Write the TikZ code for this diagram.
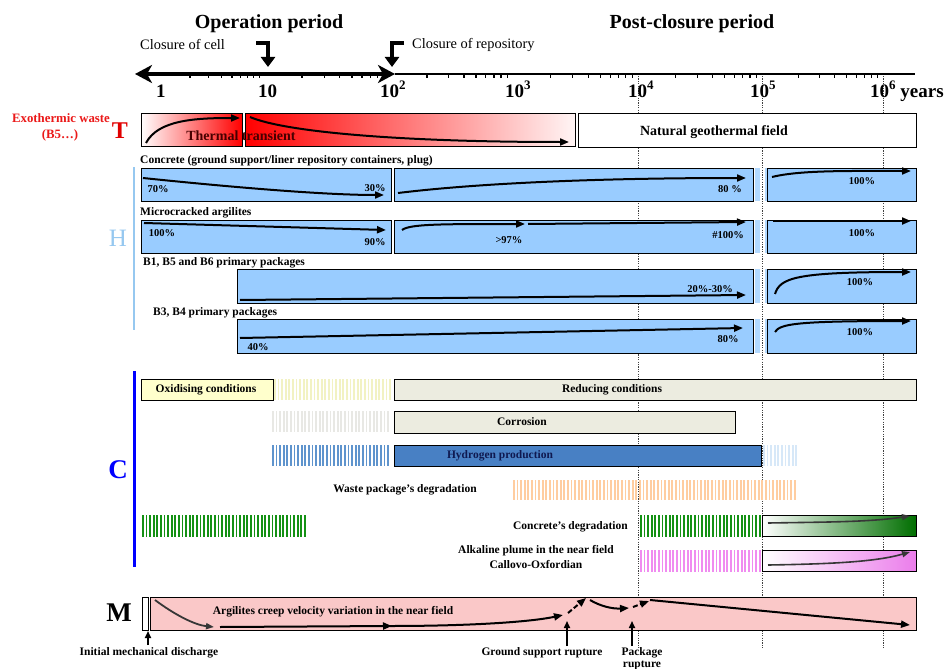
\documentclass[tikz,border=0pt]{standalone}
\usepackage{fontspec}
\setmainfont{Liberation Serif}
\usetikzlibrary{arrows.meta}
\definecolor{hblue}{RGB}{153,204,255}
\definecolor{hlab}{RGB}{150,200,240}
\definecolor{tred}{RGB}{225,0,0}
\definecolor{exred}{RGB}{235,25,25}
\definecolor{thtxt}{RGB}{70,0,0}
\definecolor{oxy}{RGB}{255,255,204}
\definecolor{oxyst}{RGB}{242,242,195}
\definecolor{redc}{RGB}{236,236,224}
\definecolor{corst}{RGB}{232,232,228}
\definecolor{hyd}{RGB}{72,128,196}
\definecolor{hydst}{RGB}{95,148,205}
\definecolor{hydtxt}{RGB}{15,25,80}
\definecolor{hydlt}{RGB}{215,232,248}
\definecolor{orst}{RGB}{255,205,160}
\definecolor{grst}{RGB}{20,145,20}
\definecolor{cgreen}{RGB}{0,110,0}
\definecolor{pkst}{RGB}{240,140,240}
\definecolor{cviolet}{RGB}{235,125,235}
\definecolor{mpink}{RGB}{250,200,200}
\definecolor{dgrey}{RGB}{55,55,55}
\newcommand\supx[1]{\raisebox{0.42em}{\fontsize{13}{13}\selectfont #1}}
\newcommand\vstripes[5]{%
  \pgfmathtruncatemacro\nstr{(#2-#1-1.7)/3.6}%
  \foreach \i in {0,...,\nstr}{\draw[#5,line width=1.7pt] ({#1+0.85+\i*3.6},#3) -- ({#1+0.85+\i*3.6},#4);}%
}
\tikzset{
  bx/.style={draw=black,line width=1pt},
  crv/.style={line width=2pt,-{Triangle[length=9pt,width=7pt]}},
  gcrv/.style={line width=1.6pt,dgrey,-{Triangle[length=8pt,width=6pt]}},
  lbl/.style={font=\fontsize{11.5}{13}\selectfont\bfseries, inner sep=0pt},
  pc/.style={font=\fontsize{10.5}{12}\selectfont\bfseries, inner sep=0pt},
  axl/.style={font=\fontsize{19}{20}\selectfont\bfseries, inner sep=0pt, anchor=base west},
  big/.style={font=\fontsize{20}{22}\selectfont\bfseries, inner sep=0pt},
  letter/.style={font=\fontsize{25}{26}\selectfont\bfseries, inner sep=0pt},
  dotl/.style={dash pattern=on 1.2pt off 1.2pt, line width=1pt, black!75},
  bent/.style={line width=4pt,-{Triangle[length=10pt,width=14pt]}},
}
\begin{document}
\begin{tikzpicture}[x=1pt,y=-1pt]
\useasboundingbox (0,0) rectangle (948,669);
\fill[white] (0,0) rectangle (948,669);

% ---- titles
\node[big] (op) at (269,24) {Operation period};
\node[big] (pc) at (692,24) {Post-closure period};
\node[font=\fontsize{14.4}{16}\selectfont, anchor=west, inner sep=0pt] (cc) at (140,45) {Closure of cell};
\node[font=\fontsize{14.4}{16}\selectfont, anchor=west, inner sep=0pt] (crp) at (412,45) {Closure of repository};
\coordinate (b1s) at (256,43); \coordinate (b1m) at (268,43); \coordinate (b1e) at (268,67);
\coordinate (b2s) at (404,43); \coordinate (b2m) at (392,43); \coordinate (b2e) at (392,67);
\draw[bent] (b1s) -- (b1m) -- (b1e);
\draw[bent] (b2s) -- (b2m) -- (b2e);

% ---- dotted guides
\foreach \x in {638,762,883}{\draw[dotl] (\x,76) -- (\x,648);}

% ---- axis
\coordinate (axL) at (135,74); \coordinate (axM) at (395,74); \coordinate (axR) at (915,74);
\draw[line width=1.3pt] (axM) -- (axR);
\draw[line width=3.2pt, {Stealth[length=17pt,width=18pt,inset=5pt]}-{Stealth[length=17pt,width=18pt,inset=5pt]}] (axL) -- (axM);
\foreach \d/\w in {158/106,264/126,390/123,513/125,638/124,762/121}{
  \foreach \k in {2,...,9}{
    \draw[line width=1.2pt] ({\d+\w*log10(\k)},74) -- ++(0,4);
  }
}
\node[axl] (t0) at (156,97) {1};
\node[axl] (t1) at (258,97) {10};
\node[axl] (t2) at (380,97) {10\supx{2}};
\node[axl] (t3) at (505,97) {10\supx{3}};
\node[axl] (t4) at (628,97) {10\supx{4}};
\node[axl] (t5) at (750,97) {10\supx{5}};
\node[axl] (t6) at (870,97) {10\supx{6} years};

% ---- T row
\node[font=\fontsize{12.8}{14}\selectfont\bfseries, text=exred, inner sep=0pt] (exo) at (61,118) {Exothermic waste};
\node[font=\fontsize{12.8}{14}\selectfont\bfseries, text=exred, inner sep=0pt] (b5) at (60,135) {(B5…)};
\node[letter, text=tred, font=\fontsize{24}{26}\selectfont\bfseries] (T) at (120,131) {T};
\shade[left color=white, right color=red] (141,113) rectangle (242,146);
\draw[bx] (141,113) rectangle (242,146);
\shade[left color=red, right color=red!4] (245,113) rectangle (575,146);
\draw[bx] (245,113) rectangle (575,146);
\draw[bx, fill=white] (578,113) rectangle (916,147);
\node[font=\fontsize{14}{16}\selectfont\bfseries, inner sep=0pt] (ngf) at (714,132) {Natural geothermal field};
\draw[crv] (146,143) .. controls (158,120) and (195,118) .. (240,118);
\draw[crv] (250,117) .. controls (285,132) and (400,142) .. (569,142);
\node[font=\fontsize{14}{16}\selectfont\bfseries, text=thtxt, inner sep=0pt] (tt) at (241,136) {Thermal transient};

% ---- H section
\draw[hlab, line width=2.5pt] (134,167) -- (134,330);
\node[font=\fontsize{25}{26}\selectfont, text=hlab, inner sep=0pt] (H) at (118,238) {H};

% row 1
\node[lbl, anchor=west] (r1) at (140,161) {Concrete (ground support/liner repository containers, plug)};
\draw[bx, fill=hblue] (141,168) rectangle (391,201);
\draw[bx, fill=hblue] (394,168) rectangle (753,201);
\draw[bx, fill=hblue] (767,168) rectangle (916,201);
\draw[crv] (143,178) .. controls (220,186) and (320,195) .. (384,195);
\node[pc] (p1a) at (158,189) {70\%};
\node[pc] (p1b) at (375,188) {30\%};
\draw[crv] (398,193) .. controls (480,183) and (600,178) .. (746,178);
\node[pc] (p1c) at (730,189) {80 \%};
\draw[crv] (772,177) .. controls (800,170) and (850,171) .. (911,171);
\node[pc] (p1d) at (862,181) {100\%};

% row 2
\node[lbl, anchor=west] (r2) at (140,213) {Microcracked argilites};
\draw[bx, fill=hblue] (141,220) rectangle (391,253);
\draw[bx, fill=hblue] (394,220) rectangle (753,253);
\draw[bx, fill=hblue] (767,220) rectangle (916,253);
\draw[crv] (144,223) -- (386,230);
\node[pc] (p2a) at (162,233) {100\%};
\node[pc] (p2b) at (375,242) {90\%};
\draw[crv] (402,230) .. controls (410,224) and (440,224) .. (525,224);
\draw[crv] (528,224) -- (746,222);
\node[pc] (p2c) at (509,240) {>97\%};
\node[pc] (p2d) at (728,235) {\#100\%};
\draw[crv] (773,221) -- (911,221);
\node[pc] (p2e) at (862,233) {100\%};

% row 3
\node[lbl, anchor=west] (r3) at (143,263) {B1, B5 and B6 primary packages};
\draw[bx, fill=hblue] (237,269) rectangle (753,303);
\draw[bx, fill=hblue] (767,269) rectangle (916,303);
\draw[crv] (240,300) -- (746,295);
\node[pc] (p3a) at (710,289) {20\%-30\%};
\draw[crv] (775,294) .. controls (780,278) and (795,272) .. (911,272);
\node[pc] (p3b) at (860,282) {100\%};

% row 4
\node[lbl, anchor=west] (r4) at (153,313) {B3, B4 primary packages};
\draw[bx, fill=hblue] (237,319) rectangle (753,353);
\draw[bx, fill=hblue] (767,319) rectangle (916,353);
\draw[crv] (240,338) -- (743,328);
\node[pc] (p4a) at (258,347) {40\%};
\node[pc] (p4b) at (728,339) {80\%};
\draw[crv] (775,332) .. controls (780,324) and (795,321) .. (911,321);
\node[pc] (p4c) at (860,332) {100\%};

% light strips between B and C
\foreach \ya/\yb in {168/201,220/253,269/303,319/353}{
  \fill[hblue!75] (755,\ya) rectangle (759.5,\yb);
  \fill[hblue!75] (764.5,\ya) rectangle (766.5,\yb);
}

% ---- C section
\draw[blue, line width=3pt] (134,371) -- (134,567);
\node[letter, text=blue, font=\fontsize{27}{28}\selectfont\bfseries] (C) at (118,470) {C};

\draw[bx, fill=oxy] (141,379) rectangle (273,400);
\node[lbl] (ox) at (206,390) {Oxidising conditions};
\vstripes{274}{391}{379}{400}{oxyst}
\draw[bx, fill=redc] (394,379) rectangle (916,400);
\node[lbl] (rd) at (612,390) {Reducing conditions};

\vstripes{272}{391}{411}{432}{corst}
\draw[bx, fill=redc] (394,411) rectangle (735,433);
\node[lbl] (cor) at (522,422) {Corrosion};

\vstripes{272}{392}{445}{466}{hydst}
\draw[bx, fill=hyd] (394,445) rectangle (761,466);
\node[lbl, text=hydtxt] (hy) at (500,456) {Hydrogen production};
\vstripes{763}{799}{445}{466}{hydlt}

\node[lbl] (wp) at (405,490) {Waste package’s degradation};
\vstripes{513}{799}{480}{500}{orst}

\vstripes{142}{308}{515}{537}{grst}
\node[lbl, anchor=east] (cd) at (628,527) {Concrete’s degradation};
\vstripes{640}{761}{515}{537}{grst}
\shade[left color=white, right color=cgreen] (762,515) rectangle (916,536);
\draw[bx] (762,515) rectangle (916,536);
\draw[gcrv] (768,523) .. controls (830,522) and (870,522) .. (910,516);

\node[lbl] (al1) at (536,551) {Alkaline plume in the near field};
\node[lbl] (al2) at (536,565) {Callovo-Oxfordian};
\vstripes{640}{761}{550}{572}{pkst}
\shade[left color=white, right color=cviolet] (762,550) rectangle (916,571);
\draw[bx] (762,550) rectangle (916,571);
\draw[gcrv] (768,565) .. controls (830,564) and (875,562) .. (910,552);

% ---- M section
\node[letter, font=\fontsize{27}{28}\selectfont\bfseries] (M) at (119,613) {M};
\draw[bx, fill=white] (142,597) rectangle (148.5,630);
\draw[bx, fill=mpink] (150.5,597) rectangle (916,630);
\node[lbl] (acv) at (333,612) {Argilites creep velocity variation in the near field};
\draw[gcrv, line width=1.8pt] (155,600) .. controls (175,615) and (195,625) .. (214,627);
\draw[crv] (220,627) -- (392,626);
\draw[crv] (390,626) .. controls (470,626) and (530,622) .. (563,615);
\draw[crv, dash pattern=on 5pt off 2.5pt] (568,613) -- (586,598);
\draw[crv] (590,600) .. controls (600,606) and (612,609) .. (629,608);
\draw[crv, dash pattern=on 5pt off 2.5pt] (633,607) -- (649,601);
\draw[crv] (650,600) -- (910,625);

\coordinate (a1) at (148,645); \coordinate (a1t) at (148,631);
\coordinate (a2) at (567,646); \coordinate (a2t) at (567,621);
\coordinate (a3) at (632,646); \coordinate (a3t) at (632,621);
\draw[line width=1.6pt, -{Triangle[length=7pt,width=6pt]}] (a1) -- (a1t);
\draw[line width=1.6pt, -{Triangle[length=7pt,width=6pt]}] (a2) -- (a2t);
\draw[line width=1.6pt, -{Triangle[length=7pt,width=6pt]}] (a3) -- (a3t);
\node[lbl] (imd) at (149,653) {Initial mechanical discharge};
\node[lbl] (gsr) at (542,653) {Ground support rupture};
\node[lbl] (pk1) at (642,653) {Package};
\node[lbl] (pk2) at (642,665) {rupture};
\end{tikzpicture}
\end{document}
